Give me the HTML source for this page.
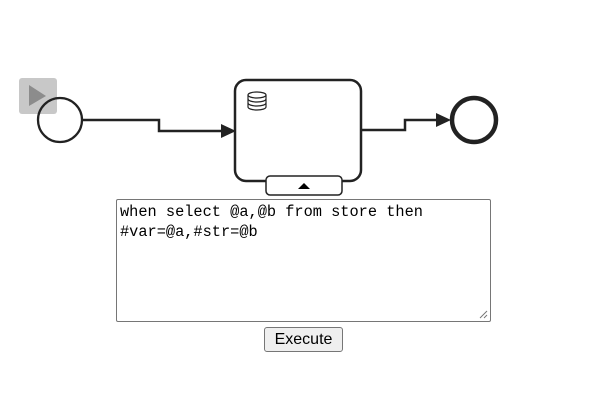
<!DOCTYPE html>
<html><head><style>
html,body{margin:0;padding:0;background:#fff;width:592px;height:411px;overflow:hidden;position:relative}
svg{position:absolute;left:0;top:0}
.ta{position:absolute;left:116px;top:199px;width:375px;height:123px;box-sizing:border-box;border:1px solid #767676;border-radius:2px;font-family:"Liberation Mono",monospace;font-size:15.3px;line-height:20px;padding:2px 3px;color:#000;white-space:pre}
.btn{position:absolute;left:264px;top:327px;width:79px;height:25px;box-sizing:border-box;border:1px solid #767676;border-radius:3px;background:#efefef;font-family:"Liberation Sans",sans-serif;font-size:16px;text-align:center;line-height:23px;color:#000}
</style></head><body>
<svg width="592" height="411">
<rect x="19" y="78" width="38" height="36" rx="3" fill="#c8c8c8"/>
<polygon points="29,85 29,106 46,96" fill="#8c8c8c"/>
<circle cx="60" cy="120" r="22" fill="none" stroke="#222" stroke-width="2.3"/>
<polyline points="83,120 159,120 159,131 222,131" fill="none" stroke="#222" stroke-width="2.5"/>
<polygon points="221,124 236,131 221,138" fill="#222"/>
<rect x="235" y="80" width="126" height="101" rx="11" fill="#fff" stroke="#222" stroke-width="2.5"/>
<g fill="#fff" stroke="#222" stroke-width="1.2">
<path d="M248,95 v12 a9,3 0 0 0 18,0 v-12"/>
<ellipse cx="257" cy="95" rx="9" ry="3"/>
<path d="M248,99 a9,3 0 0 0 18,0 M248,103 a9,3 0 0 0 18,0" fill="none"/>
</g>
<rect x="266" y="176" width="76" height="19" rx="4" fill="#fff" stroke="#222" stroke-width="1.5"/>
<polygon points="298,189 304,183 310,189" fill="#000"/>
<polyline points="361,130 405,130 405,120 438,120" fill="none" stroke="#222" stroke-width="2.5"/>
<polygon points="436,113 451,120 436,127" fill="#222"/>
<circle cx="474" cy="120" r="22" fill="none" stroke="#222" stroke-width="4.5"/>
<path d="M480,318 l7,-7 M484,318 l3,-3" stroke="#777" stroke-width="1"/>
</svg>
<div class="ta">when select @a,@b from store then
#var=@a,#str=@b</div>
<div class="btn">Execute</div>
</body></html>
